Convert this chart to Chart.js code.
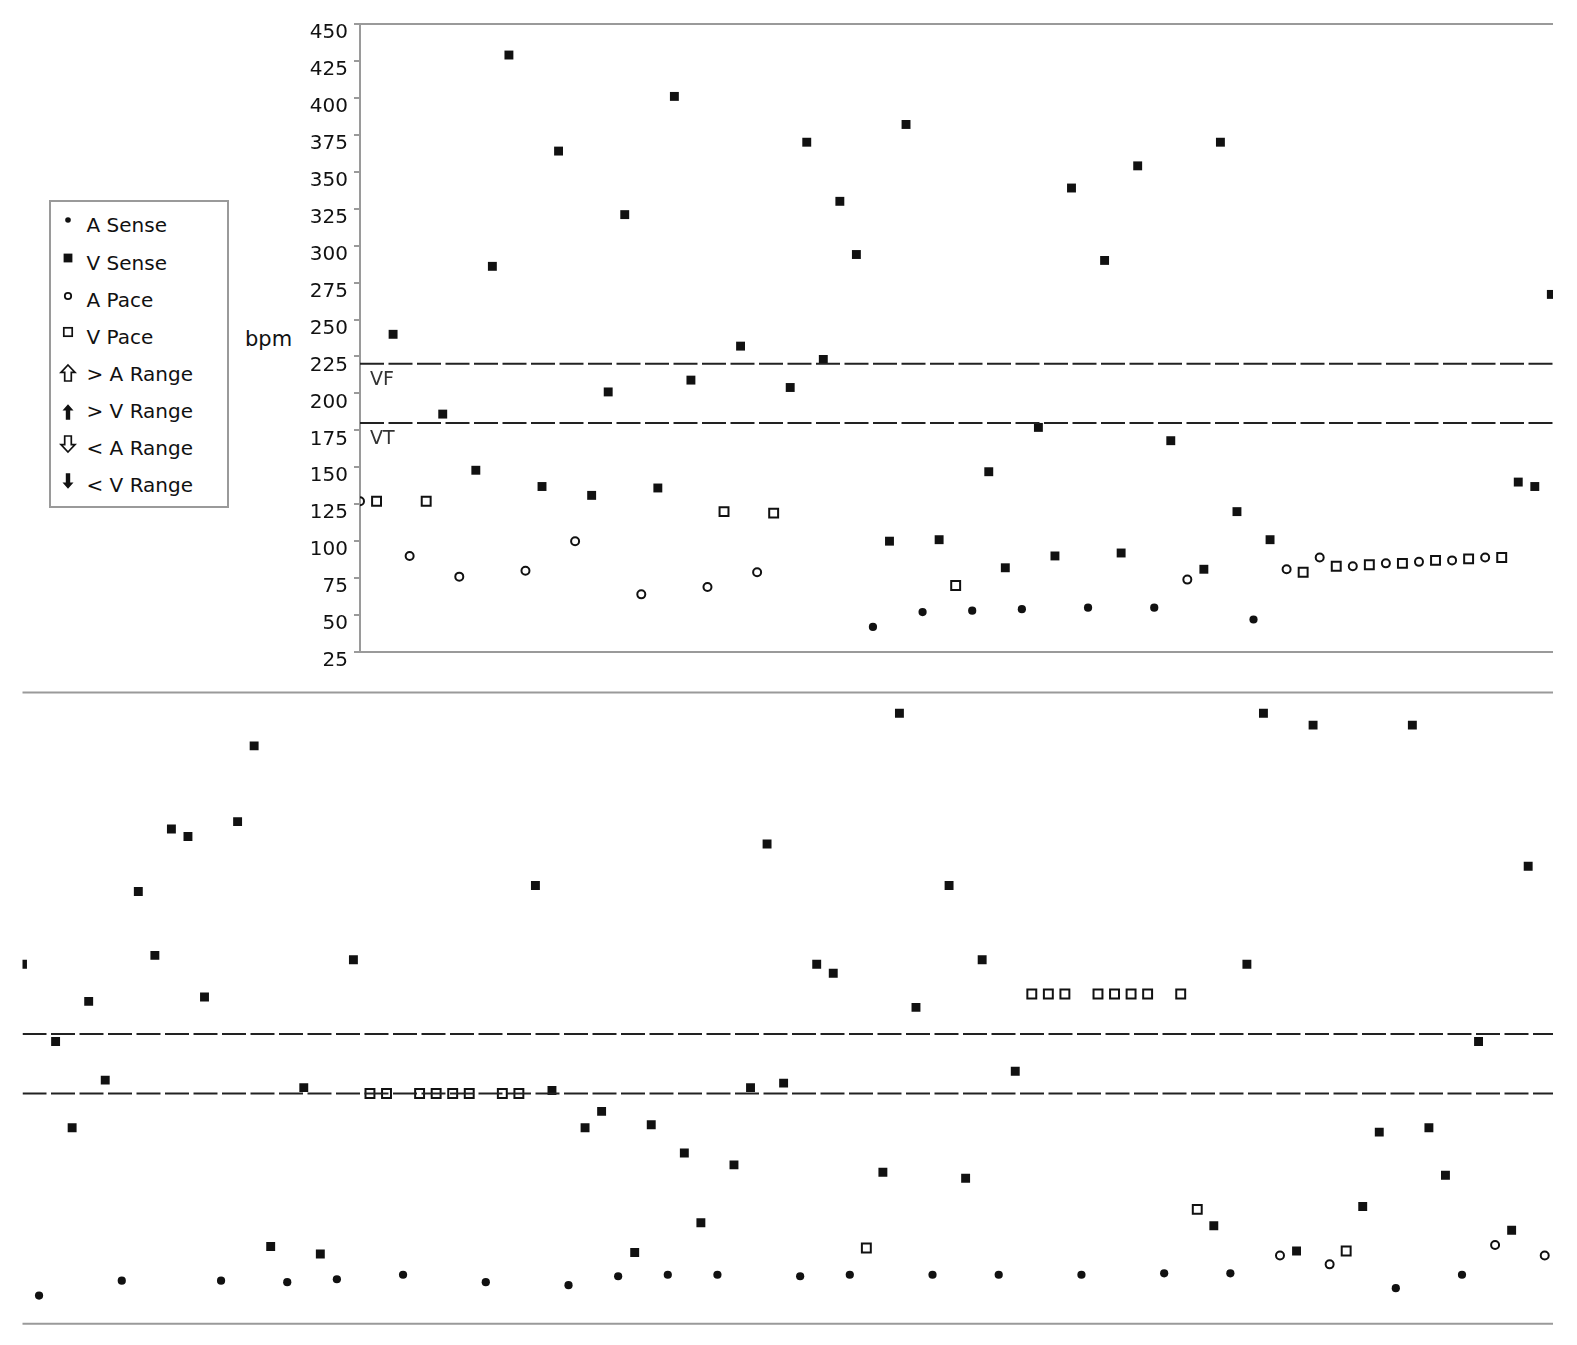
<!DOCTYPE html>
<html>
<head>
<meta charset="utf-8">
<script src="https://cdn.jsdelivr.net/npm/chart.js@4.4.1/dist/chart.umd.min.js"></script>
<style>
  body {
    margin: 0;
    background: #fff;
    width: 1577px;
    height: 1345px;
    position: relative;
    overflow: hidden;
    font-family: "DejaVu Sans", Verdana, sans-serif;
    color: #111;
  }
  canvas { position: absolute; left: 0; }
  #topChart { top: 0; }
  #bottomChart { top: 680px; }
  .legend-box {
    position: absolute;
    left: 49px; top: 200px;
    width: 180px; height: 308px;
    border: 2px solid #9a9a9a;
    box-sizing: border-box;
  }
  .legend-text {
    position: absolute;
    left: 86.5px;
    font-size: 20px;
    line-height: 24px;
    white-space: pre;
  }
  .legend-icon { position: absolute; width: 20px; height: 20px; }
  #bpm { position: absolute; left: 245px; top: 327px; font-size: 21px; line-height: 24px; }
</style>
</head>
<body>
<div class="legend-box"></div>
<div id="legend"></div>
<div id="bpm">bpm</div>
<canvas id="topChart" width="1577" height="680"></canvas>
<canvas id="bottomChart" width="1577" height="665"></canvas>
<script>
// event codes: AS = A Sense, VS = V Sense, AP = A Pace, VP = V Pace
// one event per beat slot, x = slot index

// upper strip
const topEvents = [
  'AP','VP','VS','AP','VP','VS','AP','VS','VS','VS',
  'AP','VS','VS','AP','VS','VS','VS','AP','VS','VS',
  'VS','AP','VP','VS','AP','VP','VS','VS','VS','VS',
  'VS','AS','VS','VS','AS','VS','VP','AS','VS','VS',
  'AS','VS','VS','VS','AS','VS','VS','VS','AS','VS',
  'AP','VS','VS','VS','AS','VS','AP','VP','AP','VP',
  'AP','VP','AP','VP','AP','VP','AP','VP','AP','VP',
  'VS','VS','VS'
];
const topRates = [
  127, 127, 240,  90, 127, 186,  76, 148, 286, 429,
   80, 137, 364, 100, 131, 201, 321,  64, 136, 401,
  209,  69, 120, 232,  79, 119, 204, 370, 223, 330,
  294,  42, 100, 382,  52, 101,  70,  53, 147,  82,
   54, 177,  90, 339,  55, 290,  92, 354,  55, 168,
   74,  81, 370, 120,  47, 101,  81,  79,  89,  83,
   83,  84,  85,  85,  86,  87,  87,  88,  89,  89,
  140, 137, 267
];

// lower strip
const bottomEvents = [
  'VS','AS','VS','VS','VS','VS','AS','VS','VS','VS',
  'VS','VS','AS','VS','VS','VS','AS','VS','VS','AS',
  'VS','VP','VP','AS','VP','VP','VP','VP','AS','VP',
  'VP','VS','VS','AS','VS','VS','AS','VS','VS','AS',
  'VS','VS','AS','VS','VS','VS','VS','AS','VS','VS',
  'AS','VP','VS','VS','VS','AS','VS','VS','VS','AS',
  'VS','VP','VP','VP','AS','VP','VP','VP','VP','AS',
  'VP','VP','VS','AS','VS','VS','AP','VS','VS','AP',
  'VP','VS','VS','AS','VS','VS','VS','AS','VS','AP',
  'VS','VS','AP'
];
const bottomRates = [
  267,  44, 215, 157, 242, 189,  54, 316, 273, 358,
  353, 245,  54, 363, 414,  77,  53, 184,  72,  55,
  270, 180, 180,  58, 180, 180, 180, 180,  53, 180,
  180, 320, 182,  51, 157, 168,  57,  73, 159,  58,
  140,  93,  58, 132, 184, 348, 187,  57, 267, 261,
   58,  76, 127, 436, 238,  58, 320, 123, 270,  58,
  195, 247, 247, 247,  58, 247, 247, 247, 247,  59,
  247, 102,  91,  59, 267, 436,  71,  74, 428,  65,
   74, 104, 154,  49, 428, 157, 125,  58, 215,  78,
   88, 333,  71
];

// detection zones
const zoneNames = ['VF', 'VT'];
const zoneRates = [220, 180];

// axis
const rateMin = 25;
const rateMax = 450;
const rateStep = 25;

const legendLabels = ['A Sense', 'V Sense', 'A Pace', 'V Pace', '> A Range', '> V Range', '< A Range', '< V Range'];

const INK = '#111';
const FRAME = '#9a9a9a';

const markerStyles = {
  AS: { label: 'A Sense', pointStyle: 'circle', pointRadius: 4.1, backgroundColor: INK, borderWidth: 0 },
  VS: { label: 'V Sense', pointStyle: 'rect', pointRadius: 6.3, backgroundColor: INK, borderWidth: 0 },
  AP: { label: 'A Pace', pointStyle: 'circle', pointRadius: 4, backgroundColor: 'rgba(0,0,0,0)', borderWidth: 2 },
  VP: { label: 'V Pace', pointStyle: 'rect', pointRadius: 6.3, backgroundColor: 'rgba(0,0,0,0)', borderWidth: 2 }
};

Chart.defaults.font.family = '"DejaVu Sans", Verdana, sans-serif';

function buildDatasets(events, rates, xMax) {
  const sets = [];
  zoneRates.forEach((rate, i) => {
    sets.push({
      label: zoneNames[i],
      data: [{ x: 0, y: rate }, { x: xMax, y: rate }],
      showLine: true,
      borderColor: '#222',
      borderWidth: 2,
      borderDash: [24, 4.5],
      pointRadius: 0,
      fill: false
    });
  });
  Object.keys(markerStyles).forEach(code => {
    const st = markerStyles[code];
    const pts = [];
    events.forEach((e, i) => {
      if (e === code) pts.push({ x: i, y: rates[i] });
    });
    sets.push({
      label: st.label,
      data: pts,
      pointStyle: st.pointStyle,
      pointRadius: st.pointRadius,
      pointHoverRadius: st.pointRadius,
      backgroundColor: st.backgroundColor,
      borderColor: INK,
      borderWidth: st.borderWidth,
      clip: 0
    });
  });
  return sets;
}

// grey rules along top and bottom of the plot area
const framePlugin = {
  id: 'frame',
  beforeDatasetsDraw(chart) {
    const { ctx, chartArea } = chart;
    ctx.save();
    ctx.strokeStyle = FRAME;
    ctx.lineWidth = 2;
    ctx.beginPath();
    ctx.moveTo(chartArea.left, chartArea.top);
    ctx.lineTo(chartArea.right, chartArea.top);
    ctx.moveTo(chartArea.left, chartArea.bottom);
    ctx.lineTo(chartArea.right, chartArea.bottom);
    ctx.stroke();
    ctx.restore();
  }
};

// VF / VT captions under the zone lines
const zoneLabelPlugin = {
  id: 'zoneLabels',
  afterDatasetsDraw(chart, args, opts) {
    if (!opts.show) return;
    const { ctx, chartArea, scales } = chart;
    ctx.save();
    ctx.fillStyle = '#333';
    ctx.font = '19px "DejaVu Sans", Verdana, sans-serif';
    ctx.textAlign = 'left';
    ctx.textBaseline = 'alphabetic';
    zoneRates.forEach((rate, i) => {
      const y = scales.y.getPixelForValue(rate);
      ctx.fillText(zoneNames[i], chartArea.left + 10, y + 21.5);
    });
    ctx.restore();
  }
};

const baseOptions = {
  responsive: false,
  animation: false,
  events: [],
  plugins: {
    legend: { display: false },
    tooltip: { enabled: false }
  }
};

// upper strip with rate axis
new Chart(document.getElementById('topChart'), {
  type: 'scatter',
  data: { datasets: buildDatasets(topEvents, topRates, 72.1) },
  options: {
    ...baseOptions,
    layout: { padding: { left: 0, top: 24, right: 24, bottom: 28 } },
    plugins: { ...baseOptions.plugins, zoneLabels: { show: true } },
    scales: {
      x: { type: 'linear', min: 0, max: 72.1, display: false },
      y: {
        type: 'linear',
        min: rateMin,
        max: rateMax,
        afterFit: scale => { scale.width = 360; },
        ticks: {
          stepSize: rateStep,
          autoSkip: false,
          color: INK,
          font: { size: 20 },
          padding: 6,
          labelOffset: 9
        },
        grid: { display: true, drawOnChartArea: false, drawTicks: true, tickLength: 6, color: FRAME, lineWidth: 2 },
        border: { display: true, color: FRAME, width: 2 }
      }
    }
  },
  plugins: [framePlugin, zoneLabelPlugin]
});

// lower strip, same rate scale, no axis
new Chart(document.getElementById('bottomChart'), {
  type: 'scatter',
  data: { datasets: buildDatasets(bottomEvents, bottomRates, 92.5) },
  options: {
    ...baseOptions,
    layout: { padding: { left: 22.5, top: 12.4, right: 24, bottom: 21.2 } },
    plugins: { ...baseOptions.plugins, zoneLabels: { show: false } },
    scales: {
      x: { type: 'linear', min: 0, max: 92.5, display: false },
      y: { type: 'linear', min: rateMin, max: rateMax, display: false }
    }
  },
  plugins: [framePlugin, zoneLabelPlugin]
});

// legend box
const legendIcons = [
  '<circle cx="10" cy="10" r="2.8" fill="#111"/>',
  '<rect x="5.6" y="5.6" width="8.8" height="8.8" fill="#111"/>',
  '<circle cx="10" cy="10" r="3.2" fill="none" stroke="#111" stroke-width="1.8"/>',
  '<rect x="5.8" y="5.8" width="8.4" height="8.4" fill="none" stroke="#111" stroke-width="1.7"/>',
  '<polygon points="10,2 17,9.3 13.3,9.3 13.3,18 6.7,18 6.7,9.3 3,9.3" fill="none" stroke="#111" stroke-width="1.7"/>',
  '<polygon points="10,2.2 15.5,8.6 12.2,8.6 12.2,17.8 7.8,17.8 7.8,8.6 4.5,8.6" fill="#111"/>',
  '<polygon points="10,18 17,10.7 13.3,10.7 13.3,2 6.7,2 6.7,10.7 3,10.7" fill="none" stroke="#111" stroke-width="1.7"/>',
  '<polygon points="10,17.8 15.5,11.4 12.2,11.4 12.2,2.2 7.8,2.2 7.8,11.4 4.5,11.4" fill="#111"/>'
];
const iconShift = [-5.5, -4, -3.5, -4, -0.5, 1.5, -4, -3.5];
const legendEl = document.getElementById('legend');
legendLabels.forEach((label, i) => {
  const capCenter = 225 + i * 37.1;
  const txt = document.createElement('div');
  txt.className = 'legend-text';
  txt.style.top = (capCenter - 11.6) + 'px';
  txt.textContent = label;
  legendEl.appendChild(txt);
  const icon = document.createElement('div');
  icon.className = 'legend-icon';
  icon.style.left = (67.6 - 10) + 'px';
  icon.style.top = (capCenter + iconShift[i] - 10) + 'px';
  icon.innerHTML = '<svg width="20" height="20" viewBox="0 0 20 20">' + legendIcons[i] + '</svg>';
  legendEl.appendChild(icon);
});
</script>
</body>
</html>
